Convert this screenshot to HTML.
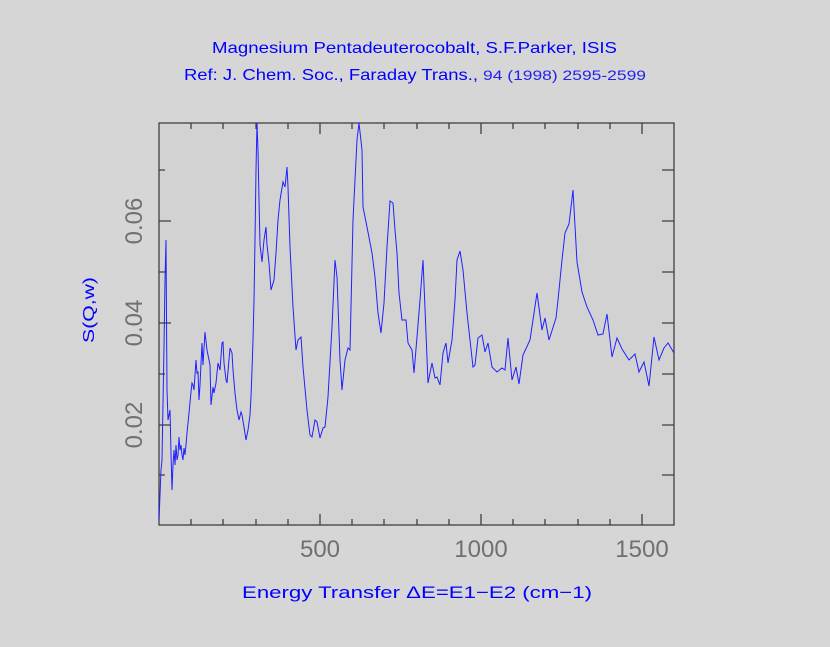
<!DOCTYPE html>
<html><head><style>html,body{margin:0;padding:0;background:#d6d6d6;}svg{display:block}</style></head>
<body>
<svg width="830" height="647" xmlns="http://www.w3.org/2000/svg">
<rect width="830" height="647" fill="#d6d6d6"/>
<rect x="159" y="123" width="515" height="402" fill="#d2d2d2"/>
<g font-family="Liberation Sans, sans-serif" fill="#0000ff">
<text x="212" y="53" font-size="16" textLength="405" lengthAdjust="spacingAndGlyphs">Magnesium Pentadeuterocobalt, S.F.Parker, ISIS</text>
<text x="184" y="80" font-size="16" textLength="294" lengthAdjust="spacingAndGlyphs">Ref: J. Chem. Soc., Faraday Trans.,</text>
<text x="483" y="80" font-size="14" fill="#2222ee" textLength="163" lengthAdjust="spacingAndGlyphs">94 (1998) 2595-2599</text>
<text x="242" y="598" font-size="17" textLength="350" lengthAdjust="spacingAndGlyphs" font-weight="300">Energy Transfer ΔE=E1−E2 (cm−1)</text>
<text transform="translate(94,343) rotate(-90)" font-size="16" textLength="66" lengthAdjust="spacingAndGlyphs">S(Q,w)</text>
</g>
<g font-family="Liberation Sans, sans-serif" fill="#707070" font-size="24">
<text x="320" y="557" text-anchor="middle">500</text>
<text x="481" y="557" text-anchor="middle">1000</text>
<text x="642" y="557" text-anchor="middle">1500</text>
<text transform="translate(142,425) rotate(-90)" text-anchor="middle">0.02</text>
<text transform="translate(142,323) rotate(-90)" text-anchor="middle">0.04</text>
<text transform="translate(142,221) rotate(-90)" text-anchor="middle">0.06</text>
</g>
<g stroke="#404040" stroke-width="1.3" fill="none">
<rect x="159" y="123" width="515" height="402"/>
<path d="M191 525v-6M223 525v-6M256 525v-6M288 525v-6M320 525v-11M352 525v-6M384 525v-6M417 525v-6M449 525v-6M481 525v-11M513 525v-6M545 525v-6M578 525v-6M610 525v-6M642 525v-11
M191 123v6M223 123v6M256 123v6M288 123v6M320 123v11M352 123v6M384 123v6M417 123v6M449 123v6M481 123v11M513 123v6M545 123v6M578 123v6M610 123v6M642 123v11
M159 475h6M159 425h12M159 374h6M159 323h12M159 272h6M159 221h12M159 170h6
M674 475h-12M674 425h-12M674 374h-12M674 323h-12M674 272h-12M674 221h-12M674 170h-12"/>
</g>
<polyline fill="none" stroke="#2020ff" stroke-width="1" points="159,520 161,470 162,460 164,347 165,280 166,240 167,390 168,420 170,410 171,453 172,490 173,465 174,450 175,465 176,445 177,460 178,455 179,437 180,450 181,445 182,455 183,460 184,448 185,455 186,445 187,433 189,413 191,392 192,383 193,385 194,390 196,360 197,373 198,372 199,400 200,385 202,343 203,365 205,332 207,350 210,365 211,405 213,387 214,393 216,383 218,363 220,370 222,343 223,342 224,363 226,380 227,383 230,348 232,353 233,370 235,393 237,410 239,420 241,412 242,415 244,427 246,440 248,430 250,415 251,397 252,370 253,340 254,300 255,240 256,170 257,123 258,150 259,200 260,245 262,262 264,240 266,227 267,245 269,263 271,290 274,280 276,253 278,220 280,200 283,182 285,187 287,167 288,187 290,247 293,307 296,350 298,340 301,337 303,367 307,410 310,435 312,437 315,420 317,422 320,438 323,428 325,427 328,397 332,327 335,260 337,277 340,360 342,390 345,360 348,348 350,350 353,220 357,140 359,123 362,150 363,207 367,227 372,253 375,277 378,313 381,333 384,303 387,247 390,201 393,203 395,230 397,253 399,293 402,320 406,320 408,343 412,350 414,373 417,337 420,300 423,260 426,333 428,383 432,363 435,378 437,377 440,385 443,353 446,343 448,363 452,340 455,300 457,260 460,251 463,270 467,313 470,340 473,367 475,365 478,338 482,335 485,352 488,343 492,367 497,372 502,368 505,370 508,338 512,380 516,367 519,384 523,355 530,340 537,293 542,330 545,318 549,340 556,318 558,300 562,260 565,233 569,224 573,190 577,262 582,292 587,307 593,320 598,335 603,334 607,314 612,357 617,338 622,349 629,360 635,354 639,372 644,362 649,386 654,337 659,360 664,348 668,343 674,353"/>
</svg>
</body></html>
